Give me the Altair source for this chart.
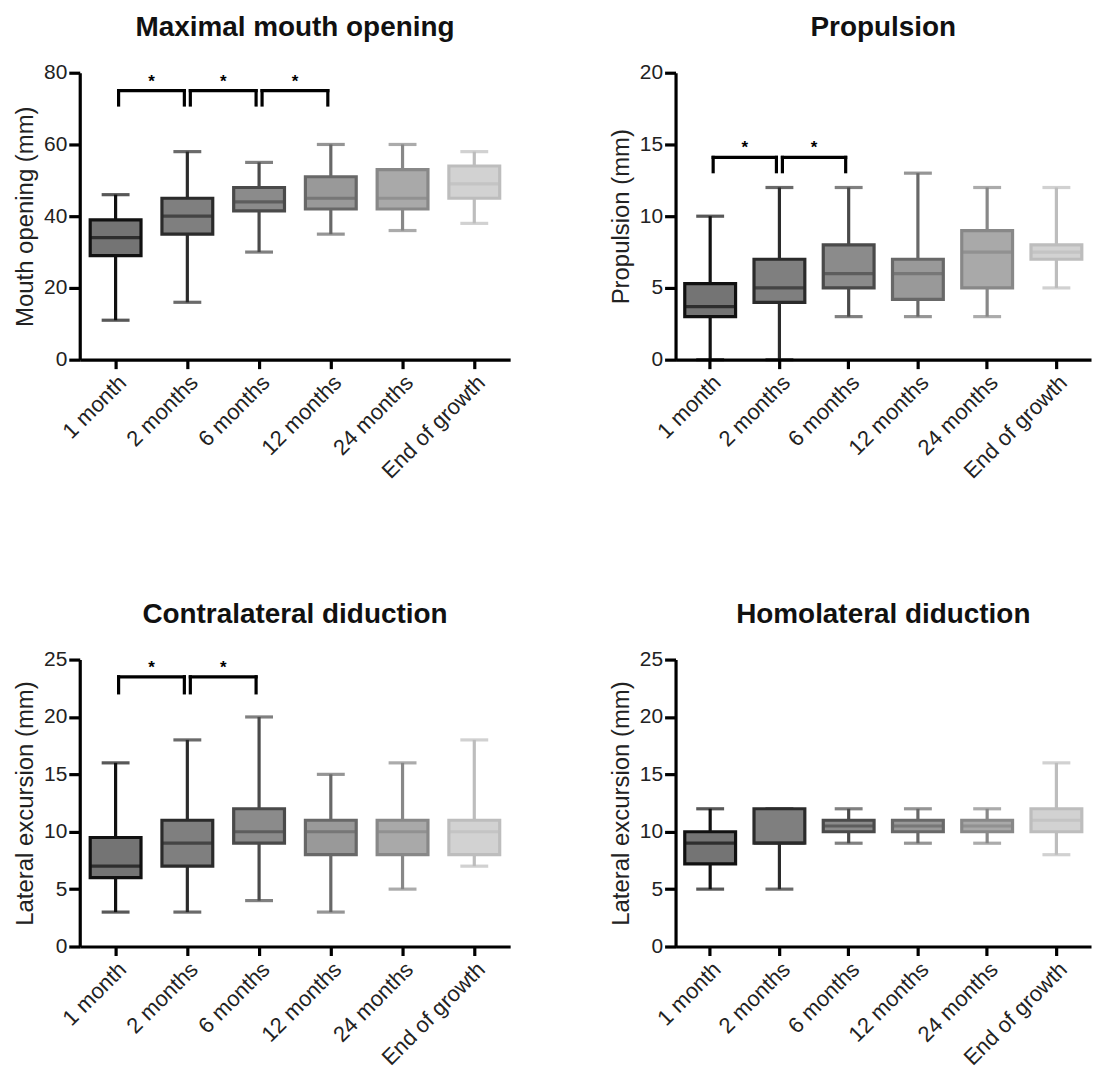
import altair as alt
import pandas as pd

categories = ["1 month", "2 months", "6 months", "12 months", "24 months", "End of growth"]
stroke_colors = ["#111111", "#2b2b2b", "#4a4a4a", "#686868", "#888888", "#bdbdbd"]
fill_colors = ["#747474", "#7f7f7f", "#8b8b8b", "#999999", "#a9a9a9", "#d2d2d2"]

# Maximal mouth opening
mouth_min = [11, 16, 30, 35, 36, 38]
mouth_q1 = [29, 35, 41.5, 42, 42, 45]
mouth_med = [34, 40, 44, 45, 45, 49]
mouth_q3 = [39, 45, 48, 51, 53, 54]
mouth_max = [46, 58, 55, 60, 60, 58]
mouth_br_start = ["1 month", "2 months", "6 months"]
mouth_br_end = ["2 months", "6 months", "12 months"]
mouth_br_y = [75, 75, 75]
mouth_br_leg = [71, 71, 71]

# Propulsion
prop_min = [0, 0, 3, 3, 3, 5]
prop_q1 = [3, 4, 5, 4.2, 5, 7]
prop_med = [3.7, 5, 6, 6, 7.5, 7.5]
prop_q3 = [5.3, 7, 8, 7, 9, 8]
prop_max = [10, 12, 12, 13, 12, 12]
prop_br_start = ["1 month", "2 months"]
prop_br_end = ["2 months", "6 months"]
prop_br_y = [14.1, 14.1]
prop_br_leg = [13.1, 13.1]

# Contralateral diduction
contra_min = [3, 3, 4, 3, 5, 7]
contra_q1 = [6, 7, 9, 8, 8, 8]
contra_med = [7, 9, 10, 10, 10, 10]
contra_q3 = [9.5, 11, 12, 11, 11, 11]
contra_max = [16, 18, 20, 15, 16, 18]
contra_br_start = ["1 month", "2 months"]
contra_br_end = ["2 months", "6 months"]
contra_br_y = [23.5, 23.5]
contra_br_leg = [22.1, 22.1]

# Homolateral diduction
homo_min = [5, 5, 9, 9, 9, 8]
homo_q1 = [7.2, 9, 10, 10, 10, 10]
homo_med = [9, 9, 10.5, 10.5, 10.5, 11]
homo_q3 = [10, 12, 11, 11, 11, 12]
homo_max = [12, 12, 12, 12, 12, 16]

LW = 3.2
BOX_W = 51
CAP_W = 28
FONT = "Liberation Sans"


def panel(title, ytitle, ymax, yvals, mins, q1s, meds, q3s, maxs,
          br_start, br_end, br_y, br_leg, width, height=288):
    df = pd.DataFrame({"cat": categories, "lo": mins, "q1": q1s,
                       "med": meds, "q3": q3s, "hi": maxs})
    xscale = alt.Scale(domain=categories, paddingInner=0, paddingOuter=0)
    xaxis = alt.Axis(labelAngle=-45, labelFontSize=22, tickSize=9, tickWidth=LW,
                     domainWidth=LW, labelPadding=3, title=None, zindex=2)
    yscale = alt.Scale(domain=[0, ymax], nice=False, zero=True)
    yaxis = alt.Axis(values=yvals, grid=False, labelFontSize=21, titleFontSize=24,
                     titleFontWeight="normal", tickSize=11, tickWidth=LW,
                     domainWidth=LW, labelPadding=2, titlePadding=6, zindex=2)

    def X(f):
        return alt.X(f, sort=categories, scale=xscale, axis=xaxis, title=None)

    def Y(f):
        return alt.Y(f, scale=yscale, axis=yaxis, title=ytitle)

    color = alt.Color("cat:N", scale=alt.Scale(domain=categories, range=stroke_colors), legend=None)
    fill = alt.Fill("cat:N", scale=alt.Scale(domain=categories, range=fill_colors), legend=None)
    stroke = alt.Stroke("cat:N", scale=alt.Scale(domain=categories, range=stroke_colors), legend=None)

    base = alt.Chart(df)
    whisk = base.mark_rule(strokeWidth=LW).encode(x=X("cat:N"), y=Y("lo:Q"), y2="hi:Q", color=color)
    cap_lo = base.mark_tick(size=CAP_W, thickness=LW).encode(x=X("cat:N"), y=Y("lo:Q"), color=color)
    cap_hi = base.mark_tick(size=CAP_W, thickness=LW).encode(x=X("cat:N"), y=Y("hi:Q"), color=color)
    box = base.mark_bar(width=BOX_W, strokeWidth=LW).encode(
        x=X("cat:N"), y=Y("q1:Q"), y2="q3:Q", fill=fill, stroke=stroke)
    med = base.mark_tick(size=BOX_W, thickness=LW).encode(x=X("cat:N"), y=Y("med:Q"), color=color)
    layers = [whisk, cap_lo, cap_hi, box, med]

    if br_start:
        step = width / len(categories)
        bdf = pd.DataFrame({"s": br_start, "e": br_end, "y": br_y, "leg": br_leg})
        bc = alt.Chart(bdf)
        horiz = bc.mark_rule(strokeWidth=LW, color="black", xOffset=3, x2Offset=-3,
                             strokeCap="square").encode(x=X("s:N"), x2="e:N", y=Y("y:Q"))
        leg1 = bc.mark_rule(strokeWidth=LW, color="black", xOffset=3,
                            strokeCap="square").encode(x=X("s:N"), y=Y("y:Q"), y2="leg:Q")
        leg2 = bc.mark_rule(strokeWidth=LW, color="black", xOffset=-3,
                            strokeCap="square").encode(x=X("e:N"), y=Y("y:Q"), y2="leg:Q")
        star = bc.mark_text(text="*", fontSize=17, fontWeight="bold", font=FONT,
                            color="black", xOffset=step / 2, dy=-4,
                            baseline="alphabetic").encode(x=X("s:N"), y=Y("y:Q"))
        layers += [horiz, leg1, leg2, star]

    return alt.layer(*layers).properties(
        width=width, height=height,
        title=alt.TitleParams(title, fontSize=28, fontWeight="bold", font=FONT,
                              anchor="middle", offset=20, color="#111111"))


p1 = panel("Maximal mouth opening", "Mouth opening (mm)", 80, [0, 20, 40, 60, 80],
           mouth_min, mouth_q1, mouth_med, mouth_q3, mouth_max,
           mouth_br_start, mouth_br_end, mouth_br_y, mouth_br_leg, 432)
p2 = panel("Propulsion", "Propulsion (mm)", 20, [0, 5, 10, 15, 20],
           prop_min, prop_q1, prop_med, prop_q3, prop_max,
           prop_br_start, prop_br_end, prop_br_y, prop_br_leg, 417)
p3 = panel("Contralateral diduction", "Lateral excursion (mm)", 25, [0, 5, 10, 15, 20, 25],
           contra_min, contra_q1, contra_med, contra_q3, contra_max,
           contra_br_start, contra_br_end, contra_br_y, contra_br_leg, 432)
p4 = panel("Homolateral diduction", "Lateral excursion (mm)", 25, [0, 5, 10, 15, 20, 25],
           homo_min, homo_q1, homo_med, homo_q3, homo_max,
           [], [], [], [], 417)

chart = alt.vconcat(
    alt.hconcat(p1, p2, spacing=99),
    alt.hconcat(p3, p4, spacing=99),
    spacing=119,
).properties(
    padding={"left": 5, "top": 4, "right": 5, "bottom": 5}
).configure_view(stroke=None).configure_axis(
    labelFont=FONT, titleFont=FONT, labelColor="#222222", titleColor="#222222",
    domainColor="black", tickColor="black"
).configure_title(font=FONT)

chart.save("out.html", embed_options={"renderer": "svg", "actions": False})
